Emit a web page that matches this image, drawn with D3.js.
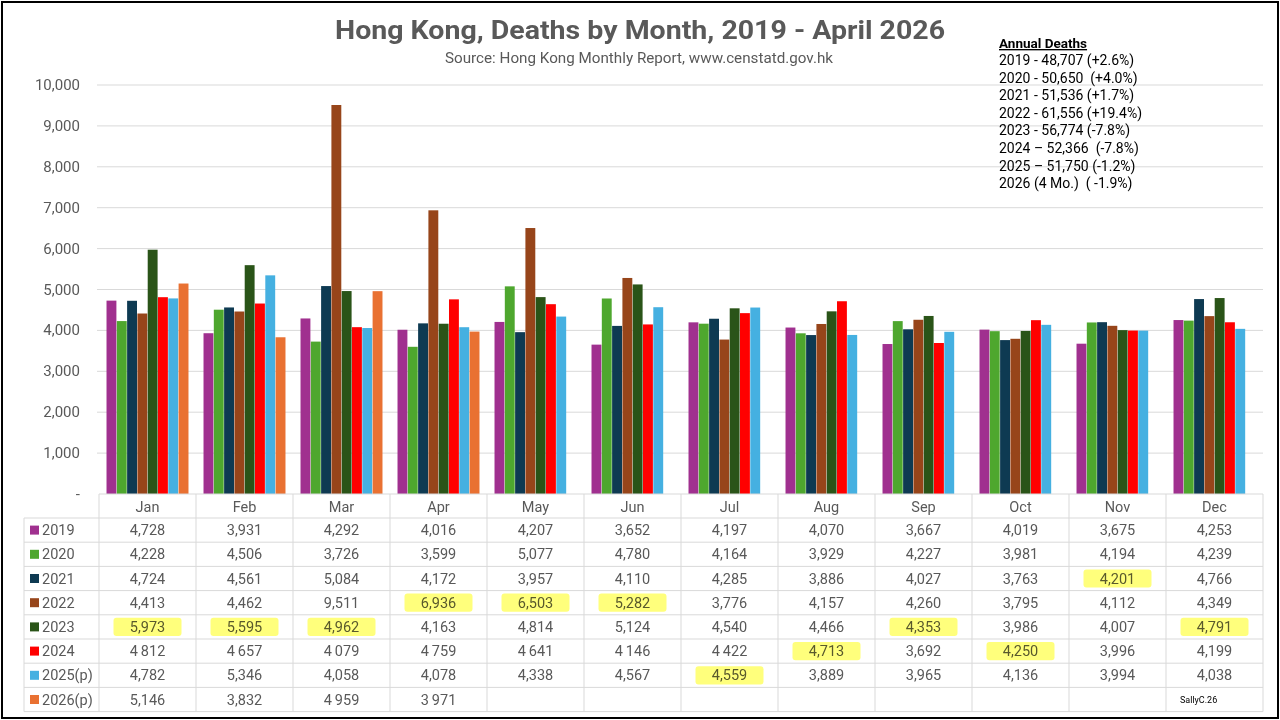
<!DOCTYPE html>
<html lang="en">

<head>
    <meta charset="UTF-8" />
    <title>Hong Kong, Deaths by Month</title>
    <script src="https://d3js.org/d3.v7.min.js"></script>
    <style>
        body {
            margin: 0;
            background: #ffffff;
        }

        svg text {
            font-family: Roboto, "Open Sans", sans-serif;
        }
    </style>
</head>

<body>
    <svg id="chart" width="1280" height="720"></svg>

    <script>
        const months = ["Jan", "Feb", "Mar", "Apr", "May", "Jun", "Jul", "Aug", "Sep", "Oct", "Nov", "Dec"];
        const years = ["2019", "2020", "2021", "2022", "2023", "2024", "2025(p)", "2026(p)"];
        const colors = ["#A0308F", "#4EA72E", "#0E3A52", "#97451A", "#2A5418", "#FF0000", "#45B0E1", "#E97132"];

        const d2019 = [4728, 3931, 4292, 4016, 4207, 3652, 4197, 4070, 3667, 4019, 3675, 4253];
        const d2020 = [4228, 4506, 3726, 3599, 5077, 4780, 4164, 3929, 4227, 3981, 4194, 4239];
        const d2021 = [4724, 4561, 5084, 4172, 3957, 4110, 4285, 3886, 4027, 3763, 4201, 4766];
        const d2022 = [4413, 4462, 9511, 6936, 6503, 5282, 3776, 4157, 4260, 3795, 4112, 4349];
        const d2023 = [5973, 5595, 4962, 4163, 4814, 5124, 4540, 4466, 4353, 3986, 4007, 4791];
        const d2024 = [4812, 4657, 4079, 4759, 4641, 4146, 4422, 4713, 3692, 4250, 3996, 4199];
        const d2025 = [4782, 5346, 4058, 4078, 4338, 4567, 4559, 3889, 3965, 4136, 3994, 4038];
        const d2026 = [5146, 3832, 4959, 3971];
        const series = [d2019, d2020, d2021, d2022, d2023, d2024, d2025, d2026];

        // cells printed with a space as thousands separator [row, month]
        const spaceSep = [[5, 0], [5, 1], [5, 2], [5, 3], [5, 4], [5, 5], [5, 6], [7, 2], [7, 3]];
        // highlighted cells [row, month]
        const highlights = [[2, 10], [3, 3], [3, 4], [3, 5], [4, 0], [4, 1], [4, 2], [4, 8], [4, 11], [5, 7], [5, 9], [6, 6]];

        const yTicks = [0, 1000, 2000, 3000, 4000, 5000, 6000, 7000, 8000, 9000, 10000];

        const annualTitle = "Annual Deaths";
        const annualLines = [
            "2019 - 48,707 (+2.6%)",
            "2020 - 50,650  (+4.0%)",
            "2021 - 51,536 (+1.7%)",
            "2022 - 61,556 (+19.4%)",
            "2023 - 56,774 (-7.8%)",
            "2024 \u2013 52,366  (-7.8%)",
            "2025 \u2013 51,750 (-1.2%)",
            "2026 (4 Mo.)  ( -1.9%)"
        ];

        const svg = d3.select("#chart");
        const textGray = "#595959";
        const gridGray = "#D9D9D9";

        const plotLeft = 99, plotRight = 1263, plotTop = 85, plotBottom = 494;
        const rowH = 24.2, headerBottom = 518, labelLeft = 24;

        const y = d3.scaleLinear().domain([0, 10000]).range([plotBottom, plotTop]);
        const x0 = d3.scaleBand().domain(months).range([plotLeft, plotRight])
            .paddingInner(0.155).paddingOuter(0.0775);
        const x1 = d3.scaleBand().domain(years).range([0, x0.bandwidth()]).paddingInner(0.04);

        // Gridlines
        svg.append("g")
            .selectAll("line")
            .data(yTicks.filter(d => d > 0))
            .join("line")
            .attr("x1", plotLeft - 2)
            .attr("x2", plotRight)
            .attr("y1", d => y(d))
            .attr("y2", d => y(d))
            .attr("stroke", gridGray)
            .attr("stroke-width", 1);

        // Y axis labels
        svg.append("g")
            .selectAll("text")
            .data(yTicks)
            .join("text")
            .attr("x", 80)
            .attr("y", d => y(d) + 5)
            .attr("text-anchor", "end")
            .attr("font-size", 15)
            .attr("fill", textGray)
            .text(d => d === 0 ? "-" : d3.format(",")(d));

        // Bars
        const groups = svg.append("g")
            .selectAll("g")
            .data(months)
            .join("g")
            .attr("transform", d => `translate(${x0(d)},0)`);

        groups.selectAll("rect")
            .data((m, i) => series.map((s, k) => ({ year: years[k], value: s[i], k }))
                .filter(d => d.value !== undefined))
            .join("rect")
            .attr("x", d => x1(d.year))
            .attr("width", x1.bandwidth())
            .attr("y", d => y(d.value))
            .attr("height", d => y(0) - y(d.value))
            .attr("fill", d => colors[d.k]);

        // Data table
        const table = svg.append("g");
        const step = x0.step();
        const colLeft = i => plotLeft + i * step;

        // horizontal rules
        const rowLines = d3.range(years.length + 1).map(i => headerBottom + i * rowH);
        table.append("line")
            .attr("x1", plotLeft).attr("x2", plotRight)
            .attr("y1", plotBottom).attr("y2", plotBottom)
            .attr("stroke", gridGray);
        table.selectAll("line.row")
            .data(rowLines)
            .join("line")
            .attr("class", "row")
            .attr("x1", labelLeft).attr("x2", plotRight)
            .attr("y1", d => d).attr("y2", d => d)
            .attr("stroke", gridGray);

        // vertical rules
        table.selectAll("line.col")
            .data(d3.range(months.length + 1))
            .join("line")
            .attr("class", "col")
            .attr("x1", i => colLeft(i)).attr("x2", i => colLeft(i))
            .attr("y1", plotBottom).attr("y2", rowLines[rowLines.length - 1])
            .attr("stroke", gridGray);
        table.append("line")
            .attr("x1", labelLeft).attr("x2", labelLeft)
            .attr("y1", headerBottom).attr("y2", rowLines[rowLines.length - 1])
            .attr("stroke", gridGray);

        // month headers
        table.selectAll("text.month")
            .data(months)
            .join("text")
            .attr("class", "month")
            .attr("x", (d, i) => colLeft(i) + step / 2)
            .attr("y", plotBottom + 18)
            .attr("text-anchor", "middle")
            .attr("font-size", 14.5)
            .attr("fill", textGray)
            .text(d => d);

        // legend keys + year labels
        years.forEach((yr, r) => {
            const cy = headerBottom + r * rowH + rowH / 2;
            table.append("rect")
                .attr("x", 30).attr("y", cy - 4.5)
                .attr("width", 9).attr("height", 9)
                .attr("fill", colors[r]);
            table.append("text")
                .attr("x", 42).attr("y", cy + 5)
                .attr("font-size", 14.5)
                .attr("fill", textGray)
                .text(yr);
        });

        // cell values
        const isSpace = (r, c) => spaceSep.some(p => p[0] === r && p[1] === c);
        series.forEach((s, r) => {
            s.forEach((v, c) => {
                const cy = headerBottom + r * rowH + rowH / 2;
                const txt = isSpace(r, c) ? d3.format(",")(v).replace(",", "\u2009") : d3.format(",")(v);
                table.append("text")
                    .attr("x", colLeft(c) + step / 2)
                    .attr("y", cy + 5)
                    .attr("text-anchor", "middle")
                    .attr("font-size", 14.5)
                    .attr("fill", textGray)
                    .text(txt);
            });
        });

        // highlighter marks
        table.selectAll("rect.hl")
            .data(highlights)
            .join("rect")
            .attr("class", "hl")
            .attr("x", d => colLeft(d[1]) + step / 2 - 34)
            .attr("y", d => headerBottom + d[0] * rowH + 3)
            .attr("width", 68)
            .attr("height", rowH - 6)
            .attr("rx", 3)
            .attr("fill", "#FFFF50")
            .attr("opacity", 0.75)
            .style("mix-blend-mode", "multiply");

        table.append("text")
            .attr("x", 1180).attr("y", 703)
            .attr("font-size", 9)
            .attr("fill", "#000")
            .text("SallyC.26");

        // Titles
        svg.append("text")
            .attr("x", 640).attr("y", 39)
            .attr("text-anchor", "middle")
            .attr("font-size", 26)
            .attr("font-weight", "bold")
            .attr("fill", textGray)
            .attr("textLength", 610)
            .attr("lengthAdjust", "spacingAndGlyphs")
            .text("Hong Kong, Deaths by Month, 2019 - April 2026");

        svg.append("text")
            .attr("x", 639).attr("y", 63)
            .attr("text-anchor", "middle")
            .attr("font-size", 15)
            .attr("fill", textGray)
            .attr("textLength", 388)
            .attr("lengthAdjust", "spacingAndGlyphs")
            .text("Source: Hong Kong Monthly Report, www.censtatd.gov.hk");

        // Annual deaths note
        svg.append("text")
            .attr("x", 999).attr("y", 48)
            .attr("font-size", 13.5)
            .attr("font-weight", "bold")
            .attr("text-decoration", "underline")
            .attr("fill", "#000")
            .text(annualTitle);
        svg.append("g")
            .selectAll("text")
            .data(annualLines)
            .join("text")
            .attr("x", 999)
            .attr("y", (d, i) => 65 + i * 17.6)
            .attr("font-size", 14)
            .attr("fill", "#000")
            .style("white-space", "pre")
            .text(d => d);

        // Outer frame
        svg.append("rect")
            .attr("x", 2).attr("y", 2)
            .attr("width", 1276).attr("height", 716)
            .attr("fill", "none")
            .attr("stroke", "#000")
            .attr("stroke-width", 2);
    </script>

</body>

</html>
